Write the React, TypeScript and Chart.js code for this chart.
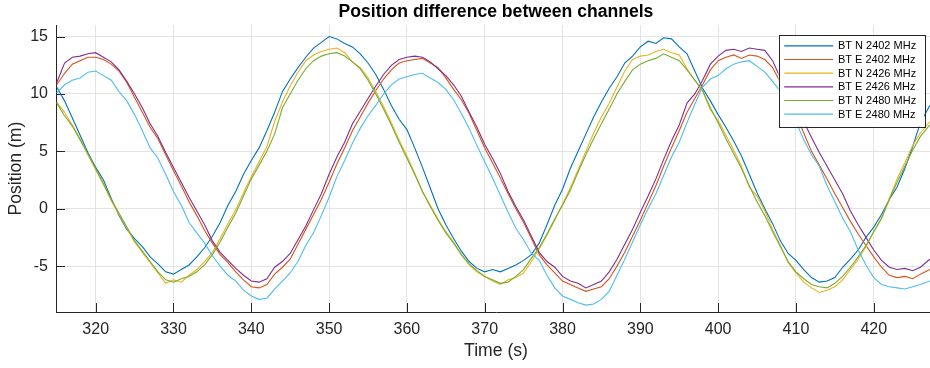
import React, { useEffect, useRef } from "react";
import { Chart, registerables } from "chart.js";

Chart.register(...registerables);

const TITLE = "Position difference between channels";
const X_LABEL = "Time (s)";
const Y_LABEL = "Position (m)";

const xTicks = [320, 330, 340, 350, 360, 370, 380, 390, 400, 410, 420];
const yTicks = [-5, 0, 5, 10, 15];

const seriesNames = [
  "BT N 2402 MHz",
  "BT E 2402 MHz",
  "BT N 2426 MHz",
  "BT E 2426 MHz",
  "BT N 2480 MHz",
  "BT E 2480 MHz",
];
const seriesColors = ["#0072BD", "#D95319", "#EDB120", "#7E2F8E", "#77AC30", "#4DBEEE"];

const time = [
  315, 316, 317, 318, 319, 320, 321, 322, 323, 324,
  325, 326, 327, 328, 329, 330, 331, 332, 333, 334,
  335, 336, 337, 338, 339, 340, 341, 342, 343, 344,
  345, 346, 347, 348, 349, 350, 351, 352, 353, 354,
  355, 356, 357, 358, 359, 360, 361, 362, 363, 364,
  365, 366, 367, 368, 369, 370, 371, 372, 373, 374,
  375, 376, 377, 378, 379, 380, 381, 382, 383, 384,
  385, 386, 387, 388, 389, 390, 391, 392, 393, 394,
  395, 396, 397, 398, 399, 400, 401, 402, 403, 404,
  405, 406, 407, 408, 409, 410, 411, 412, 413, 414,
  415, 416, 417, 418, 419, 420, 421, 422, 423, 424,
  425, 426, 427.2,
];

const btN2402 = [
  10.6, 9.4, 7.9, 6.4, 4.9, 3.6, 2.5, 0.9, -0.6, -1.8,
  -2.6, -3.3, -4.2, -4.8, -5.5, -5.7, -5.3, -4.9, -4.2, -3.4,
  -2.4, -1.2, 0.3, 1.5, 3.0, 4.2, 5.3, 6.8, 8.4, 10.2,
  11.3, 12.3, 13.2, 14.0, 14.5, 15.0, 14.8, 14.4, 14.1, 13.5,
  12.7, 11.7, 10.4, 9.0, 7.8, 6.9, 5.3, 3.6, 1.8, 0.0,
  -1.4, -2.6, -3.7, -4.6, -5.2, -5.5, -5.3, -5.5, -5.2, -4.9,
  -4.5, -4.0, -3.0, -1.4, 0.3, 1.7, 3.5, 5.0, 6.5, 8.0,
  9.3, 10.5, 11.5, 12.7, 13.3, 14.1, 14.6, 14.4, 14.9, 14.8,
  14.1, 13.5, 12.0, 10.5, 9.4, 8.2, 7.1, 5.9, 4.6, 3.0,
  1.4, 0.0, -1.3, -2.8, -3.9, -4.5, -5.3, -6.0, -6.4, -6.3,
  -6.0, -5.1, -4.4, -3.6, -2.5, -1.6, -0.5, 0.8, 1.9, 3.5,
  5.4, 7.5, 9.0,
];

const btE2402 = [
  10.8, 11.8, 12.6, 12.9, 13.2, 13.2, 13.0, 12.6, 12.0, 11.0,
  9.7, 8.4, 7.1, 6.1, 4.7, 3.3, 2.0, 0.6, -0.6, -1.9,
  -3.0, -4.0, -4.7, -5.5, -6.2, -6.8, -6.9, -6.6, -5.7, -5.1,
  -4.4, -3.1, -1.8, -0.5, 0.8, 2.3, 3.9, 5.3, 6.8, 8.0,
  9.2, 10.3, 11.3, 12.1, 12.7, 12.9, 13.0, 13.1, 12.7, 12.3,
  11.4, 10.4, 9.5, 8.3, 6.8, 5.3, 4.0, 2.7, 1.3, 0.0,
  -1.2, -2.6, -4.0, -4.9, -5.6, -6.3, -6.6, -6.9, -7.2, -7.0,
  -6.8, -6.1, -5.0, -3.8, -2.4, -1.0, 0.5, 2.0, 3.7, 5.3,
  6.8, 8.4, 9.6, 10.8, 12.1, 12.9, 13.2, 13.4, 13.1, 13.4,
  13.3, 13.0, 12.3, 11.0, 9.5, 8.3, 6.6, 5.0, 3.8, 2.6,
  1.3, 0.1, -1.1, -2.2, -3.2, -4.2, -5.1, -5.8, -6.0, -5.9,
  -6.1, -5.7, -5.3,
];

const btN2426 = [
  9.3, 8.4, 7.3, 6.1, 4.7, 3.4, 2.1, 0.7, -0.5, -1.7,
  -2.9, -3.8, -4.7, -5.6, -6.5, -6.2, -6.4, -5.8, -5.3, -4.6,
  -3.8, -2.6, -1.3, -0.1, 1.4, 2.8, 4.1, 5.4, 7.6, 9.3,
  10.7, 11.9, 12.9, 13.4, 13.7, 13.9, 14.0, 13.6, 12.8, 12.3,
  11.4, 10.2, 8.9, 7.5, 6.0, 4.6, 3.1, 1.5, 0.3, -0.9,
  -2.0, -2.9, -4.0, -4.9, -5.5, -5.9, -6.3, -6.6, -6.2, -6.0,
  -5.6, -4.6, -3.5, -2.3, -1.0, 0.4, 1.8, 3.4, 5.0, 6.6,
  8.0, 9.2, 10.6, 12.0, 13.0, 13.3, 13.4, 13.7, 13.9, 13.6,
  13.4, 12.2, 11.2, 10.3, 8.6, 7.7, 6.4, 5.1, 3.7, 1.9,
  1.1, -0.2, -1.8, -3.2, -4.7, -5.6, -6.4, -6.9, -7.3, -7.1,
  -6.8, -6.2, -5.3, -4.4, -3.3, -2.0, -0.9, 0.9, 2.6, 4.0,
  5.5, 6.6, 7.6,
];

const btE2426 = [
  11.0, 12.7, 13.2, 13.3, 13.5, 13.6, 13.2, 12.8, 12.1, 11.1,
  10.0, 8.8, 7.4, 6.3, 4.9, 3.6, 2.3, 1.0, -0.2, -1.4,
  -2.8, -3.8, -4.5, -5.2, -5.8, -6.3, -6.4, -6.1, -5.1, -4.6,
  -3.9, -2.7, -1.5, -0.1, 1.3, 3.0, 4.5, 5.8, 7.4, 8.5,
  9.6, 10.7, 11.7, 12.5, 13.0, 13.2, 13.3, 13.2, 12.8, 12.2,
  11.6, 10.8, 9.8, 8.4, 7.1, 5.6, 4.4, 3.1, 1.5, 0.2,
  -1.0, -2.4, -3.8, -4.6, -5.1, -5.9, -6.3, -6.5, -6.9, -6.6,
  -6.3, -5.5, -4.4, -3.1, -1.8, -0.3, 1.1, 2.6, 4.3, 5.9,
  7.3, 9.2, 10.0, 11.2, 12.6, 13.3, 13.8, 13.9, 13.7, 14.0,
  13.9, 13.8, 12.9, 11.4, 10.0, 8.8, 7.6, 6.2, 4.9, 3.7,
  2.5, 1.3, -0.2, -1.4, -2.5, -3.6, -4.5, -5.1, -5.3, -5.2,
  -5.4, -5.1, -4.4,
];

const btN2480 = [
  9.2, 8.1, 7.2, 6.0, 4.8, 3.5, 2.2, 0.8, -0.4, -1.6,
  -2.8, -3.7, -4.6, -5.5, -6.2, -6.4, -6.1, -5.9, -5.5, -4.9,
  -4.0, -2.9, -1.6, -0.4, 1.1, 2.6, 3.8, 5.0, 6.5, 8.8,
  10.0, 11.2, 12.2, 12.9, 13.3, 13.5, 13.6, 13.3, 12.8, 12.2,
  11.2, 10.0, 8.7, 7.3, 5.8, 4.4, 3.0, 1.5, 0.2, -1.0,
  -2.1, -3.0, -4.0, -4.8, -5.4, -5.9, -6.2, -6.5, -6.4, -5.9,
  -5.3, -4.3, -3.4, -2.2, -0.9, 0.3, 1.6, 3.2, 4.7, 6.1,
  7.4, 8.7, 10.0, 11.1, 12.1, 12.6, 12.9, 13.1, 13.5, 13.2,
  12.9, 12.1, 11.2, 10.3, 8.8, 7.5, 6.1, 4.8, 3.5, 2.0,
  0.6, -0.6, -2.0, -3.3, -4.6, -5.5, -6.1, -6.6, -6.8, -6.9,
  -6.5, -5.9, -5.1, -4.2, -3.2, -2.0, -0.8, 0.8, 2.3, 3.7,
  5.1, 6.3, 7.3,
];

const btE2480 = [
  10.1, 10.8, 11.2, 11.4, 11.9, 12.0, 11.6, 11.2, 10.2, 9.4,
  8.2, 6.8, 5.3, 4.4, 3.0, 1.5, 0.3, -1.2, -2.1, -3.0,
  -4.1, -5.0, -5.8, -6.3, -7.1, -7.6, -7.9, -7.8, -7.0, -6.3,
  -5.6, -4.6, -3.2, -2.1, -0.6, 1.0, 2.8, 4.2, 5.7, 7.0,
  8.1, 9.0, 10.0, 10.8, 11.3, 11.5, 11.7, 11.8, 11.4, 11.0,
  10.4, 9.5, 8.3, 7.0, 5.5, 4.1, 2.7, 1.2, -0.3, -1.7,
  -2.7, -3.9, -4.5, -5.8, -6.9, -7.6, -7.9, -8.2, -8.4, -8.3,
  -7.9, -7.2, -5.8, -4.4, -2.9, -1.4, 0.0, 1.3, 2.9, 4.5,
  5.8, 7.5, 9.1, 10.6, 11.3, 11.6, 12.2, 12.6, 12.8, 12.9,
  12.4, 11.9, 11.1, 10.2, 9.0, 7.6, 6.0, 4.7, 3.7, 2.0,
  0.6, -0.8, -2.0, -3.6, -4.9, -6.0, -6.6, -6.8, -6.9, -7.0,
  -6.8, -6.6, -6.3,
];

const seriesValues = [btN2402, btE2402, btN2426, btE2426, btN2480, btE2480];

const FONT = '"Liberation Sans", Arial, Helvetica, sans-serif';
const AXIS_COLOR = "#262626";

const innerTicksPlugin = {
  id: "innerTicks",
  beforeDatasetsDraw(chart: any) {
    const { ctx, chartArea, scales } = chart;
    const len = 9;
    ctx.save();
    ctx.strokeStyle = AXIS_COLOR;
    ctx.lineWidth = 1;
    ctx.beginPath();
    xTicks.forEach((v) => {
      const px = Math.round(scales.x.getPixelForValue(v)) + 0.5;
      ctx.moveTo(px, chartArea.bottom);
      ctx.lineTo(px, chartArea.bottom - len);
    });
    yTicks.forEach((v) => {
      const py = Math.round(scales.y.getPixelForValue(v)) + 0.5;
      ctx.moveTo(chartArea.left, py);
      ctx.lineTo(chartArea.left + len, py);
    });
    ctx.stroke();
    ctx.restore();
  },
};

const legendPlugin = {
  id: "matlabLegend",
  afterDraw(chart: any) {
    const { ctx, chartArea } = chart;
    const right = chartArea.right - 12;
    const width = 145.5;
    const left = right - width;
    const top = chartArea.top + 10;
    const rowH = 13.67;
    const height = 91.5;
    ctx.save();
    ctx.fillStyle = "#ffffff";
    ctx.fillRect(left, top, width, height);
    ctx.strokeStyle = AXIS_COLOR;
    ctx.lineWidth = 1;
    ctx.strokeRect(Math.round(left) + 0.5, Math.round(top) + 0.5, Math.round(width), Math.round(height));
    ctx.font = `11px ${FONT}`;
    ctx.textBaseline = "middle";
    ctx.textAlign = "left";
    seriesNames.forEach((name, i) => {
      const cy = top + 10.7 + i * rowH;
      ctx.strokeStyle = seriesColors[i];
      ctx.lineWidth = 1.2;
      ctx.beginPath();
      ctx.moveTo(left + 5.7, cy);
      ctx.lineTo(left + 54.7, cy);
      ctx.stroke();
      ctx.fillStyle = "#000000";
      ctx.fillText(name, left + 59.4, cy + 0.5);
    });
    ctx.restore();
  },
};

export default function App() {
  const canvasRef = useRef<HTMLCanvasElement | null>(null);

  useEffect(() => {
    if (!canvasRef.current) return;
    const datasets = seriesNames.map((name, i) => ({
      label: name,
      data: time.map((t, j) => ({ x: t, y: seriesValues[i][j] })),
      borderColor: seriesColors[i],
      backgroundColor: seriesColors[i],
      borderWidth: 1.1,
      pointRadius: 0,
      tension: 0,
      fill: false,
      order: seriesNames.length - 1 - i,
    }));

    const chart = new Chart(canvasRef.current, {
      type: "line",
      data: { datasets },
      options: {
        responsive: false,
        animation: false,
        devicePixelRatio: 1,
        layout: { padding: 0 },
        plugins: {
          legend: { display: false },
          tooltip: { enabled: false },
          title: {
            display: true,
            text: TITLE,
            fullSize: false,
            color: "#000000",
            font: { family: FONT, size: 17.6, weight: "bold", lineHeight: 1.2 },
            padding: { top: 2, bottom: 2 },
          },
        },
        scales: {
          x: {
            type: "linear",
            min: 314.9,
            max: 428,
            afterBuildTicks: (s: any) => {
              s.ticks = xTicks.map((v) => ({ value: v }));
            },
            afterFit: (s: any) => {
              s.height = 56;
            },
            grid: { color: "#e3e3e3", lineWidth: 1, drawTicks: false },
            border: { display: true, color: AXIS_COLOR, width: 1 },
            ticks: {
              color: AXIS_COLOR,
              font: { family: FONT, size: 16 },
              padding: 8,
              maxRotation: 0,
              autoSkip: false,
            },
            title: {
              display: true,
              text: X_LABEL,
              color: AXIS_COLOR,
              font: { family: FONT, size: 17.6, lineHeight: 1.2 },
              padding: { top: 0, bottom: 6 },
            },
          },
          y: {
            type: "linear",
            min: -9,
            max: 16,
            afterBuildTicks: (s: any) => {
              s.ticks = yTicks.map((v) => ({ value: v }));
            },
            afterFit: (s: any) => {
              s.width = 56;
            },
            grid: { color: "#e3e3e3", lineWidth: 1, drawTicks: false },
            border: { display: true, color: AXIS_COLOR, width: 1 },
            ticks: {
              color: AXIS_COLOR,
              font: { family: FONT, size: 16 },
              padding: 8,
            },
            title: {
              display: true,
              text: Y_LABEL,
              color: AXIS_COLOR,
              font: { family: FONT, size: 17.6, lineHeight: 1.2 },
              padding: { top: 6, bottom: 0 },
            },
          },
        },
      },
      plugins: [innerTicksPlugin, legendPlugin],
    } as any);

    return () => chart.destroy();
  }, []);

  return (
    <div
      style={{
        position: "absolute",
        left: 0,
        top: 0,
        width: 930,
        height: 368,
        overflow: "hidden",
        background: "#ffffff",
      }}
    >
      <canvas ref={canvasRef} width={936} height={368} style={{ display: "block" }} />
    </div>
  );
}
